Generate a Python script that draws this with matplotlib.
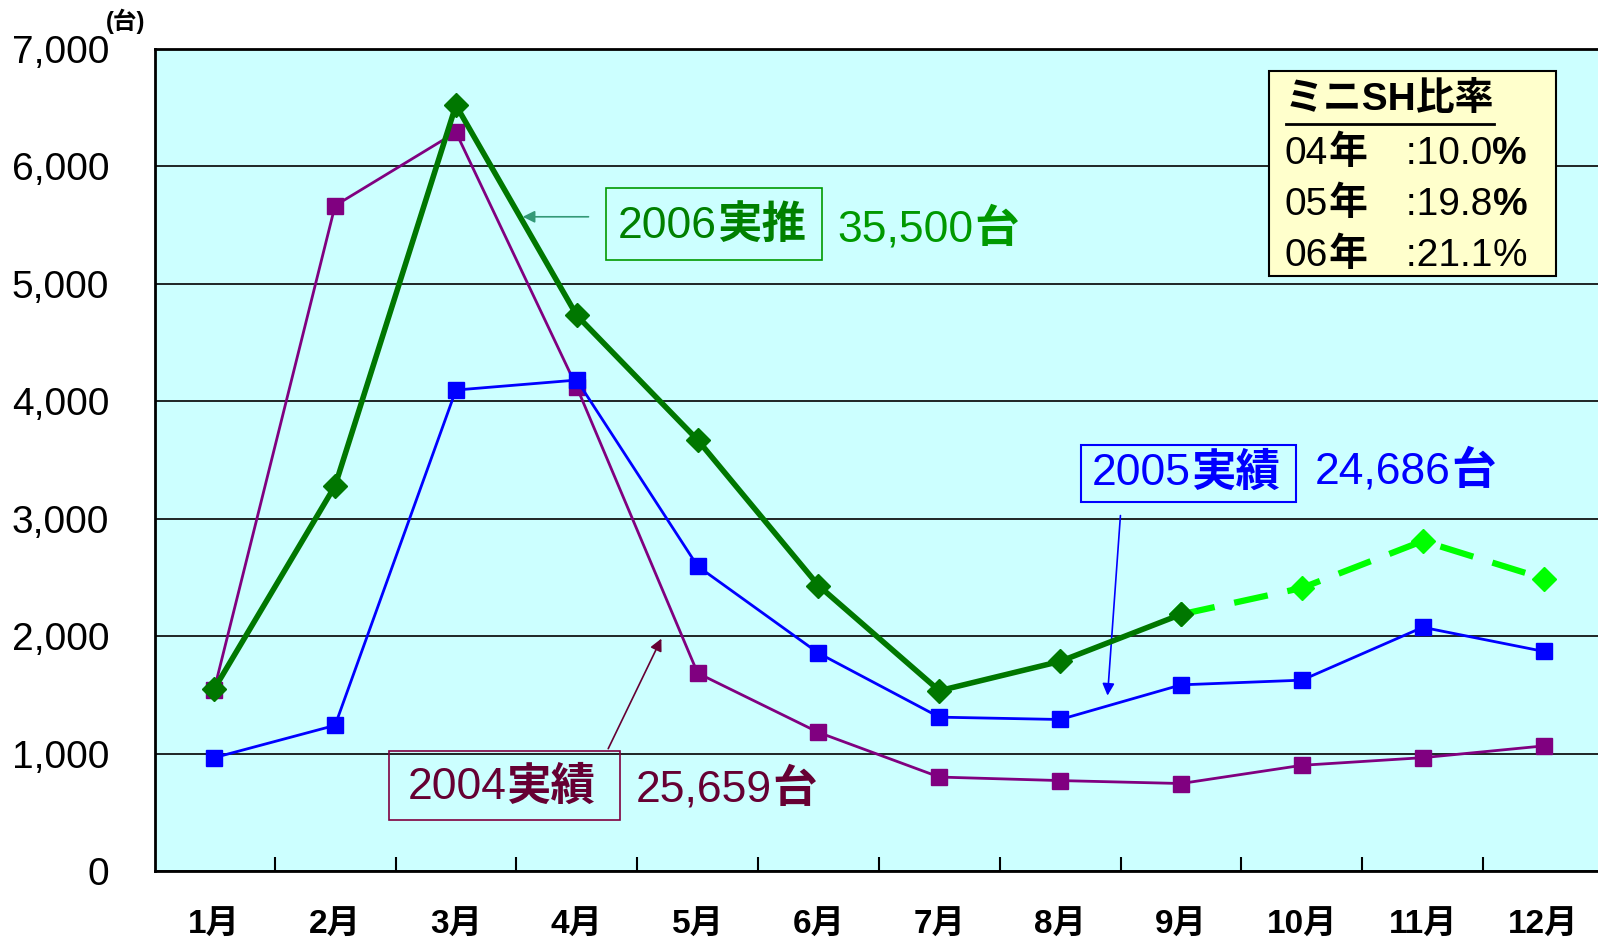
import matplotlib
matplotlib.use("Agg")
import matplotlib.pyplot as plt
from matplotlib import font_manager
from matplotlib.lines import Line2D
from matplotlib.patches import Rectangle

names = {f.name for f in font_manager.fontManager.ttflist}
narrow = "Liberation Sans Narrow" if "Liberation Sans Narrow" in names else "Liberation Sans"
FAM = ["Liberation Sans", "Noto Sans CJK JP"]
plt.rcParams["font.family"] = FAM

months = ["1月", "2月", "3月", "4月", "5月", "6月", "7月", "8月", "9月", "10月", "11月", "12月"]
sales_2004 = [1545, 5665, 6290, 4120, 1685, 1180, 800, 770, 745, 900, 965, 1065]
sales_2005 = [965, 1240, 4095, 4180, 2595, 1855, 1310, 1290, 1585, 1625, 2075, 1870]
sales_2006 = [1550, 3280, 6520, 4730, 3670, 2430, 1535, 1785, 2185]
forecast_2006 = [2185, 2410, 2810, 2490]
y_ticks = [0, 1000, 2000, 3000, 4000, 5000, 6000, 7000]
ratio_rows = [("04", "10.0", "bold"), ("05", "19.8", "bold"), ("06", "21.1", "normal")]


def mixed(ax, x, y, parts, size, color, transform=None, zorder=7):
    # draw a string piece by piece so digits and kanji get different weights
    kw = dict(fontsize=size, color=color, ha="left", va="center", zorder=zorder)
    first, w = parts[0]
    if transform is None:
        prev = ax.text(x, y, first, fontweight=w, **kw)
    else:
        prev = ax.text(x, y, first, fontweight=w, transform=transform, **kw)
    for s, w in parts[1:]:
        prev = ax.annotate(s, xy=(1, 0.5), xycoords=prev, fontweight=w, **kw)
    return prev


fig = plt.figure(figsize=(15.98, 9.39), dpi=100)
ax = fig.add_axes([0.097, 0.0724, 0.903, 0.8756])
ax.set_facecolor("#CCFFFF")

x = list(range(len(months)))
ax.plot(x, sales_2004, color="#800080", lw=2, marker="s", ms=11, zorder=4)
ax.plot(x, sales_2005, color="#0000FF", lw=2, marker="s", ms=11, zorder=4)
ax.plot(x[8:], forecast_2006, color="#00FF00", lw=4.5, ls=(0, (5.5, 3.2)),
        marker="D", ms=12, zorder=5)
ax.plot(x[:9], sales_2006, color="#007700", lw=4, marker="D", ms=12, zorder=6)

ax.set_xlim(-0.49, 11.45)
ax.set_ylim(0, 7000)
ax.set_yticks(y_ticks)
ax.set_yticklabels([f"{v:,}" for v in y_ticks], fontsize=28)
ax.tick_params(axis="y", length=0, pad=33)
ax.yaxis.grid(True, color="black", lw=1.2)
ax.set_axisbelow(True)

ax.set_xticks(x)
ax.set_xticklabels(months, fontsize=24, fontweight="bold",
                   family=[narrow, "Noto Sans CJK JP"])
ax.tick_params(axis="x", length=0, pad=28)
ax.set_xticks([i + 0.5 for i in range(11)], minor=True)
ax.tick_params(axis="x", which="minor", direction="in", length=10, width=1.5)
for s in ["left", "bottom", "top"]:
    ax.spines[s].set_linewidth(2)
ax.spines["right"].set_visible(False)

fig.text(0.066, 0.977, "(台)", fontsize=17, fontweight="bold", ha="left", va="center")

# 2006
ax.add_patch(Rectangle((3.238, 5204), 1.787, 607, fc="none", ec="#009900", lw=1.2, zorder=7))
mixed(ax, 3.34, 5490, [("2006", "normal"), ("実推", "bold")], 32, "#008000")
mixed(ax, 5.16, 5460, [("35,500", "normal"), ("台", "bold")], 32, "#009900")
ax.annotate("", xy=(2.53, 5570), xytext=(3.12, 5570),
            arrowprops=dict(arrowstyle="-|>", color="#339977", lw=1.2, mutation_scale=18))

# 2005
ax.add_patch(Rectangle((7.175, 3140), 1.779, 485, fc="none", ec="#0000FF", lw=1.5, zorder=7))
mixed(ax, 7.26, 3382, [("2005", "normal"), ("実績", "bold")], 32, "#0000FF")
mixed(ax, 9.11, 3400, [("24,686", "normal"), ("台", "bold")], 32, "#0000FF")
ax.annotate("", xy=(7.39, 1470), xytext=(7.50, 3050),
            arrowprops=dict(arrowstyle="-|>", color="#0000FF", lw=1.2, mutation_scale=18))

# 2004
ax.add_patch(Rectangle((1.450, 434), 1.906, 589, fc="none", ec="#800040", lw=1.2, zorder=7))
mixed(ax, 1.60, 711, [("2004", "normal"), ("実績", "bold")], 32, "#660033")
mixed(ax, 3.49, 694, [("25,659", "normal"), ("台", "bold")], 32, "#660033")
ax.annotate("", xy=(3.71, 2000), xytext=(3.25, 1020),
            arrowprops=dict(arrowstyle="-|>", color="#660033", lw=1.2, mutation_scale=18))

# ratio box (kept inside the axes so its texts draw above it)
W, H = 1598.0, 939.0
tf = fig.transFigure
ax.add_patch(Rectangle((1269 / W, 1 - 276 / H), 287 / W, 205 / H, transform=tf,
                       fc="#FFFFCC", ec="black", lw=1.5, zorder=10))
ax.text(1285 / W, 1 - 100 / H, "ミニSH比率", fontsize=28, fontweight="bold",
        ha="left", va="center", transform=tf, zorder=11)
ax.add_line(Line2D([1286 / W, 1494 / W], [1 - 124 / H] * 2, transform=tf,
                   color="black", lw=2, zorder=11))
for i, (yr, pct, pw) in enumerate(ratio_rows):
    mixed(ax, 1285 / W, 1 - (154 + 51 * i) / H,
          [(yr, "normal"), ("年", "bold"), ("　:" + pct, "normal"), ("%", pw)],
          28, "black", transform=tf, zorder=11)

fig.savefig("out.png", dpi=100)
